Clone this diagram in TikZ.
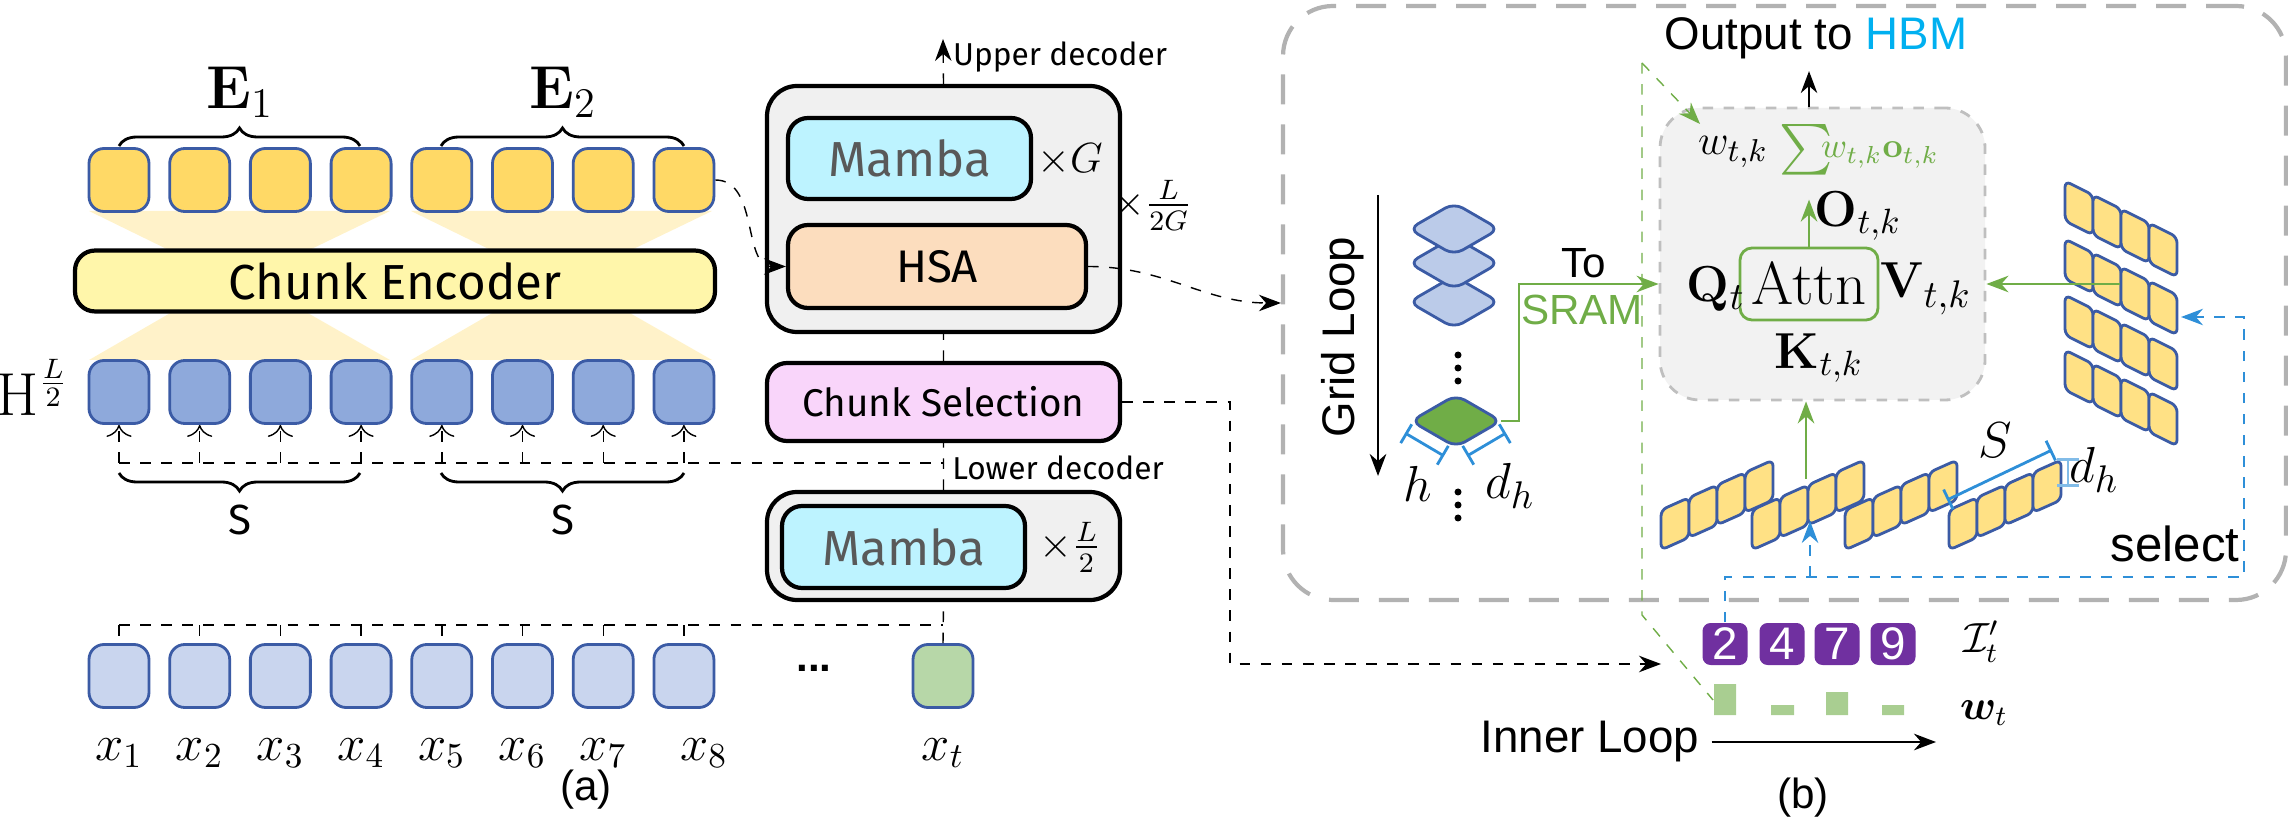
\documentclass[tikz,border=0pt]{standalone}
\usepackage[no-math]{fontspec}
\setmainfont{Liberation Sans}
\newfontfamily\boxfont{Fira Sans}
\usepackage{amsmath,bm}
\usetikzlibrary{arrows.meta,decorations.pathreplacing,positioning,calc}
\definecolor{boxblue}{HTML}{3B5BA5}
\definecolor{eyellow}{HTML}{FFD966}
\definecolor{hblue}{HTML}{8EA9DB}
\definecolor{xblue}{HTML}{C9D5EE}
\definecolor{xgreen}{HTML}{B7D7A8}
\definecolor{encyellow}{HTML}{FFF6AA}
\definecolor{mambacyan}{HTML}{BDF3FF}
\definecolor{hsaorange}{HTML}{FCDDBE}
\definecolor{selpink}{HTML}{F9D5FA}
\definecolor{hgreen}{HTML}{70AD47}
\definecolor{idxpurple}{HTML}{7030A0}
\definecolor{hbmcyan}{HTML}{00B0F0}
\definecolor{dimblue}{HTML}{2E8FD8}
\begin{document}
\begin{tikzpicture}[x=0.1mm,y=-0.1mm,>={Stealth[length=2.2mm]}]
 	\useasboundingbox (0,0) rectangle (2288,820);
 	\def \toprow{180}
 	\def \hrow{392}
 	\def \xrow{676}
 	\tikzstyle{e-node}=[draw=boxblue,thick,fill=eyellow,rounded corners=1.5mm,minimum width=6mm,minimum height=6.3mm]
 	\tikzstyle{h-node}=[e-node,fill=hblue]
 	\tikzstyle{x-node}=[e-node,fill=xblue]
 	\tikzstyle{block}=[draw=black,very thick,rounded corners=2mm,font=\boxfont\fontsize{11}{13}\selectfont]
 	\tikzstyle{annot}=[font=\fontsize{12}{14}\selectfont]
 	\tikzstyle{cell}=[draw=boxblue,thick,fill=eyellow!80!white,rounded corners=0.6mm]
 	% encoder fans
 	\foreach \a in {89,411} {
 		\fill[eyellow!35] (\a,211) -- (\a+301,211) -- (\a+210,255) -- (\a+90,255) -- cycle;
 		\fill[eyellow!35] (\a+90,308) -- (\a+210,308) -- (\a+301,360) -- (\a,360) -- cycle;
 	}
 	% chunk rows
 	\foreach \i in {1,...,8} {
 		\node[e-node] (e\i) at ({119+80.7*(\i-1)},\toprow) {};
 		\node[h-node] (h\i) at ({119+80.7*(\i-1)},\hrow) {};
 		\node[x-node] (x\i) at ({119+80.7*(\i-1)},\xrow) {};
 		\node[annot] (xl\i) at ({119+80.7*(\i-1)+(\i==8)*20},753) {\fontsize{14}{16}\selectfont$x_{\i}$};
 	}
 	\node[x-node,fill=xgreen] (xt) at (943,\xrow) {};
 	\node[annot] (xlt) at (943,753) {\fontsize{14}{16}\selectfont$x_t$};
 	\node[annot] (dots) at (814,668) {\textbf{...}};
 	\node[block,fill=encyellow,minimum width=64mm,minimum height=5.3mm,font=\boxfont\fontsize{14}{16}\selectfont] (enc) at (395,281) {Chunk Encoder};
 	\node[annot] (hlabel) at (33,387) {\fontsize{16}{18}\selectfont$\mathrm{H}^{\frac{L}{2}}$};
 	\draw[decorate,decoration={brace,amplitude=1.8mm},thick] (119,146) -- (360,146);
 	\draw[decorate,decoration={brace,amplitude=1.8mm},thick] (441,146) -- (684,146);
 	\node[annot] (e1l) at (240,92) {\fontsize{17}{19}\selectfont$\mathbf{E}_1$};
 	\node[annot] (e2l) at (563,92) {\fontsize{17}{19}\selectfont$\mathbf{E}_2$};
 	\draw[decorate,decoration={brace,amplitude=1.8mm},thick] (360,473) -- (119,473);
 	\draw[decorate,decoration={brace,amplitude=1.8mm},thick] (684,473) -- (441,473);
 	\node[annot,font=\boxfont\fontsize{12}{14}\selectfont] (s1) at (240,520) {S};
 	\node[annot,font=\boxfont\fontsize{12}{14}\selectfont] (s2) at (563,520) {S};
 	% decoder stack
 	\node[block,fill=gray!12,minimum width=35.3mm,minimum height=24.6mm,rounded corners=3mm] (upper) at (943.5,209) {};
 	\node[block,fill=mambacyan,minimum width=24.3mm,minimum height=8.1mm,text=black!65,font=\boxfont\fontsize{14}{16}\selectfont] (mamba1) at (909.5,158.5) {Mamba};
 	\node[block,fill=hsaorange,minimum width=29.8mm,minimum height=8.3mm,font=\boxfont\fontsize{13}{15}\selectfont] (hsa) at (937,266.5) {HSA};
 	\node[block,fill=selpink,minimum width=35.3mm,minimum height=7.8mm] (sel) at (943.5,402) {Chunk Selection};
 	\node[block,fill=gray!12,minimum width=35.3mm,minimum height=10.8mm,rounded corners=3mm] (lower) at (943.5,546) {};
 	\node[block,fill=mambacyan,minimum width=24.3mm,minimum height=8.2mm,text=black!65,font=\boxfont\fontsize{14}{16}\selectfont] (mamba2) at (903.5,547) {Mamba};
 	\node[annot] (xg) at (1070,160) {$\times G$};
 	\node[annot] (xl2g) at (1152,205) {$\times\frac{L}{2G}$};
 	\node[annot] (xl2) at (1070,547) {$\times\frac{L}{2}$};
 	\node[annot,font=\boxfont\fontsize{9}{11}\selectfont] (updec) at (1060,57) {Upper decoder};
 	\node[annot,font=\boxfont\fontsize{9}{11}\selectfont] (lodec) at (1058,468) {Lower decoder};
 	\coordinate (top) at (943,39);
 	\coordinate (sline) at (943,463);
 	\coordinate (xline) at (943,625);
 	\draw[dashed] (xt.north) -- (lower.south) (lower.north) -- (sel.south) (sel.north) -- (upper.south);
 	\draw[dashed,->] (upper.north) -- (top);
 	\draw[dashed] (x1.north|-xline) -- (xline);
 	\draw[dashed] (h1.south|-sline) -- (sline);
 	\foreach \i in {1,...,8} {
 		\draw[dashed] (x\i.north|-xline) -- (x\i.north);
 		\draw[dashed,-{To[length=1.2mm]}] (h\i.south|-sline) -- (h\i.south);
 	}
 	\node[annot] (alabel) at (586,790) {(a)};
 	\draw[dashed,->] (e8.east) to[out=0,in=180] (hsa.west);
 	% part (b)
 	\node[draw=gray!60,line width=1.2pt,dash pattern=on 3mm off 2mm,rounded corners=5mm,minimum width=100.3mm,minimum height=59.4mm] (bigbox) at (1784.5,303) {};
 	\draw[dashed,->] (hsa.east) to[out=0,in=180] (bigbox.west);
 	\node[draw=gray!50,dashed,thick,fill=gray!10,rounded corners=4mm,minimum width=32.5mm,minimum height=29.2mm] (inner) at (1822.5,254) {};
 	\node[draw=hgreen,thick,rounded corners=1.2mm,minimum width=12.8mm,minimum height=7.2mm] (attn) at (1809,284) {\fontsize{16}{18}\selectfont$\mathrm{Attn}$};
 	\node[annot] (q) at (1716,289) {\fontsize{15}{17}\selectfont$\mathbf{Q}_t$};
 	\node[annot] (v) at (1926,289) {\fontsize{15}{17}\selectfont$\mathbf{V}_{t,k}$};
 	\node[annot] (k) at (1819,358) {\fontsize{14}{16}\selectfont$\mathbf{K}_{t,k}$};
 	\node[annot] (o) at (1858,216) {\fontsize{14}{16}\selectfont$\mathbf{O}_{t,k}$};
 	\node[annot] (wtk) at (1733,152) {\fontsize{13}{15}\selectfont$w_{t,k}$};
 	\node[annot,text=hgreen] (sum) at (1806,150) {\fontsize{15}{17}\selectfont$\sum$};
 	\node[annot,text=hgreen] (terms) at (1880,155) {\fontsize{10}{12}\selectfont$w_{t,k}\mathbf{o}_{t,k}$};
 	\node[annot,font=\fontsize{13}{15}\selectfont] (out) at (1816,38) {Output to \textcolor{hbmcyan}{HBM}};
 	\draw[->] (inner.north-|attn.north) -- (out.south-|attn.north);
 	\draw[hgreen,thick,->] (attn.north) -- ++(0,-47);
 	% grid loop
 	\foreach \y in {302,263,229}
 		\draw[boxblue,thick,fill=hblue!60,rounded corners=1mm] (1454,\y-26) -- (1499,\y) -- (1454,\y+26) -- (1409,\y) -- cycle;
 	\draw[boxblue,thick,fill=hgreen,rounded corners=1mm] (1456,395) -- (1501,421) -- (1456,447) -- (1411,421) -- cycle;
 	\coordinate (gd) at (1501,421);
 	\foreach \y in {355,368,381,492,505,518} \fill (1458,\y) circle (0.35mm);
 	\draw[dimblue,thick,|-|] (1405,433) -- (1444,456);
 	\draw[dimblue,thick,|-|] (1467,456) -- (1506,433);
 	\node[annot] (hl) at (1418,484) {\fontsize{15}{17}\selectfont$h$};
 	\node[annot] (dhl) at (1510,486) {\fontsize{15}{17}\selectfont$d_h$};
 	\draw[thick,->] (1378,195) -- (1378,476);
 	\node[annot,rotate=90] (grid) at (1343,337) {\fontsize{13}{15}\selectfont Grid Loop};
 	\draw[hgreen,thick,->] (gd) -- (1519,421) |- (inner.west|-attn);
 	\node[annot] (to) at (1584,263) {To};
 	\node[annot,text=hgreen] (sram) at (1582,310) {SRAM};
 	\coordinate (gtop) at (1642,63);
 	\draw[hgreen,dashed,->] (gtop) -- (1700,124);
 	\draw[hgreen,dashed] (gtop) -- (1642,615) -- (1713,700);
 	% selected chunks
 	\foreach \x in {1661,1752,1845,1949}
 		\foreach \c in {0,...,3}
 			\draw[cell] (\x+28*\c,550-12.5*\c) -- (\x+28*\c+28,550-12.5*\c-12.5) -- (\x+28*\c+28,510-12.5*\c-12.5) -- (\x+28*\c,510-12.5*\c) -- cycle;
 	\foreach \r in {181,239,295,350}
 		\foreach \c in {0,...,3}
 			\draw[cell] (2065+28*\c,\r+14*\c) -- (2093+28*\c,\r+14*\c+14) -- (2093+28*\c,\r+14*\c+54) -- (2065+28*\c,\r+14*\c+40) -- cycle;
 	\coordinate (kstrip) at (1806,479);
 	\draw[hgreen,thick,->] (kstrip) -- (inner.south-|kstrip);
 	\coordinate (vstack) at (2120,284);
 	\draw[hgreen,thick,->] (vstack) -- (inner.east|-attn);
 	\draw[dimblue,thick,|-|] (1947,500) -- (2052,450);
 	\node[annot] (sl) at (1995,440) {\fontsize{15}{17}\selectfont$S$};
 	\draw[dimblue!60,thick,|-|] (2068,458) -- (2068,487);
 	\node[annot] (dh2) at (2094,470) {\fontsize{15}{17}\selectfont$d_h$};
 	\node[annot,font=\fontsize{14}{16}\selectfont] (select) at (2175,544) {select};
 	% indices
 	\foreach \n/\x in {1/1725,2/1782,3/1837,4/1893} {
 		\node[fill=idxpurple,rounded corners=0.8mm,minimum width=4.5mm,minimum height=4.2mm] (idx\n) at (\x,644) {};
 	}
 	\node[text=white,font=\fontsize{13}{15}\selectfont] at (idx1) {2};
 	\node[text=white,font=\fontsize{13}{15}\selectfont] at (idx2) {4};
 	\node[text=white,font=\fontsize{13}{15}\selectfont] at (idx3) {7};
 	\node[text=white,font=\fontsize{13}{15}\selectfont] at (idx4) {9};
 	\node[annot] (ilabel) at (1981,642) {$\mathcal{I}'_t$};
 	\node[annot] (wlabel) at (1984,713) {$\bm{w}_t$};
 	\fill[hgreen!60] (1714,684) rectangle (1736,715) (1771,705) rectangle (1794,715) (1826,692) rectangle (1848,715) (1882,705) rectangle (1904,715);
 	\draw[dimblue,dashed,->] (idx1.north) |- (2244,577) |- (2181,317);
 	\draw[dimblue,dashed,->] (1810,577) -- (1810,521);
 	\draw[dashed,->] (sel.east) -- (1230,402) |- (1661,664);
 	\node[annot,font=\fontsize{13}{15}\selectfont] (inloop) at (1590,742) {Inner Loop};
 	\draw[thick,->] (inloop.east) -- (1936,742);
 	\node[annot] (blabel) at (1803,798) {(b)};
\end{tikzpicture}
\end{document}
